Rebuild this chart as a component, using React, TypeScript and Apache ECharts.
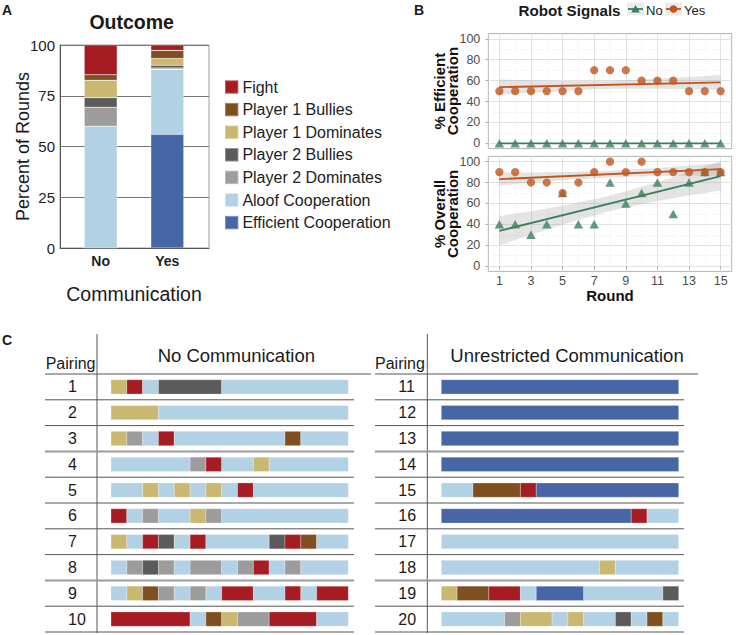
import React, { useEffect, useRef } from 'react';
import * as echarts from 'echarts';

const FONT = 'Liberation Sans, Arial, Helvetica, sans-serif';

// ---------- Panel A / C : outcomes ----------
const outcomeNames = ['Fight', 'Player 1 Bullies', 'Player 1 Dominates', 'Player 2 Bullies', 'Player 2 Dominates', 'Aloof Cooperation', 'Efficient Cooperation'];
const outcomeColors = ['#a51d22', '#7f4f1f', '#cbb870', '#5b5b5b', '#9c9c9c', '#b2d1e4', '#4666a6'];
// codes used in the pairing sequences: F fight, B P1 bullies, D P1 dominates, b P2 bullies, d P2 dominates, A aloof, E efficient
const outcomeCodes = ['F', 'B', 'D', 'b', 'd', 'A', 'E'];
const communication = ['No', 'Yes'];
const pctNo = [14.67, 2.67, 8.67, 4.67, 9.33, 60, 0];
const pctYes = [2.67, 4, 3.33, 1.33, 0.67, 32, 56];

// ---------- Panel B ----------
const rounds = [1, 2, 3, 4, 5, 6, 7, 8, 9, 10, 11, 12, 13, 14, 15];
const effNo = [0, 0, 0, 0, 0, 0, 0, 0, 0, 0, 0, 0, 0, 0, 0];
const effYes = [50, 50, 50, 50, 50, 50, 70, 70, 70, 60, 60, 60, 50, 50, 50];
const overallNo = [40, 40, 30, 40, 70, 40, 40, 80, 60, 70, 80, 50, 80, 90, 90];
const overallYes = [90, 90, 80, 80, 70, 80, 90, 100, 90, 100, 90, 90, 90, 90, 90];
const fitEffNo = [[1, 0], [15, 0]];
const fitEffYes = [[1, 53.75], [15, 58.25]];
const fitOverallNo = [[1, 33.75], [15, 86.25]];
const fitOverallYes = [[1, 83.25], [15, 92.75]];
const bandEffYes = [[1, 46.5, 61.0], [3, 48.5, 60.3], [5, 50.3, 59.7], [8, 52.2, 59.8], [11, 52.3, 61.7], [13, 51.7, 63.5], [15, 51.0, 65.5]];
const bandOverallNo = [[1, 19.8, 47.8], [3, 30.0, 52.5], [5, 39.8, 57.7], [8, 52.7, 67.4], [11, 62.3, 80.2], [13, 67.5, 90.0], [15, 72.3, 100.3]];
const bandOverallYes = [[1, 77.3, 89.3], [3, 79.8, 89.4], [5, 82.1, 89.8], [8, 84.9, 91.2], [11, 86.2, 93.8], [13, 86.6, 96.2], [15, 86.8, 98.8]];
const roundTicks = [1, 3, 5, 7, 9, 11, 13, 15];
const roundMinor = [2, 4, 6, 8, 10, 12, 14];
const pctTicks = [0, 20, 40, 60, 80, 100];
const pctMinor = [10, 30, 50, 70, 90];
const signalNames = ['No', 'Yes'];
const ORANGE = '#c0561d';
const GREEN = '#3c7f5e';

// ---------- Panel C ----------
const pairingsNo = ['1', '2', '3', '4', '5', '6', '7', '8', '9', '10'];
const pairingsYes = ['11', '12', '13', '14', '15', '16', '17', '18', '19', '20'];
const seqNo = [
  'DFAbbbbAAAAAAAA',
  'DDDAAAAAAAAAAAA',
  'DdAFAAAAAAABAAA',
  'AAAAAdFAADAAAAA',
  'AADADADAFAAAAAA',
  'FAdAADdAAAAAAAA',
  'DAFbAFAAAAbFBAA',
  'AdbdAddAdFAdAAA',
  'ADBdAdAFFAAFAFF',
  'FFFFFABDddFFFAA',
];
const seqYes = [
  'EEEEEEEEEEEEEEE',
  'EEEEEEEEEEEEEEE',
  'EEEEEEEEEEEEEEE',
  'EEEEEEEEEEEEEEE',
  'AABBBFEEEEEEEEE',
  'EEEEEEEEEEEEFAA',
  'AAAAAAAAAAAAAAA',
  'AAAAAAAAAADAAAA',
  'DBBFFAEEEAAAAAb',
  'AAAAdDDADAAbABA',
];

function runs(seqs: string[]) {
  const out: number[][] = [];
  seqs.forEach((s, row) => {
    let start = 0;
    for (let i = 1; i <= s.length; i++) {
      if (i === s.length || s[i] !== s[start]) {
        out.push([start, i, row, outcomeCodes.indexOf(s[start])]);
        start = i;
      }
    }
  });
  return out;
}

// layout
const A = { left: 60, top: 45, width: 149, height: 203 };
const AB = { left: 67.4, top: 45, width: 133.2, height: 203 };
const BT = { left: 488.3, top: 33.6, width: 243.4, height: 115 };
const BB = { left: 488.3, top: 156.4, width: 243.4, height: 115 };
const C_TOP = 374;
const ROW_H = 25.8;
const CL = { left: 111, top: C_TOP, width: 237.3, height: ROW_H * 10 };
const CR = { left: 441.3, top: C_TOP, width: 237.4, height: ROW_H * 10 };

export default function App() {
  const ref = useRef<HTMLDivElement>(null);
  useEffect(() => {
    if (!ref.current) return;
    const chart = echarts.init(ref.current, null, { renderer: 'svg' });

    const txt = (x: number, y: number, text: string, size: number, weight = 'normal', align = 'center', color = '#1a1a1a') => ({
      type: 'text', x, y, silent: true,
      style: { text, fontSize: size, fontWeight: weight, fontFamily: FONT, fill: color, textAlign: align, textVerticalAlign: 'middle' },
    });
    const hline = (x1: number, x2: number, y: number, stroke = '#555', lw = 1) => ({
      type: 'line', silent: true, shape: { x1, y1: y, x2, y2: y }, style: { stroke, lineWidth: lw },
    });
    const vline = (x: number, y1: number, y2: number) => ({
      type: 'line', silent: true, shape: { x1: x, y1, x2: x, y2 }, style: { stroke: '#555', lineWidth: 1 },
    });

    const graphics: any[] = [
      txt(7, 10, 'A', 14, 'bold'),
      txt(419, 10, 'B', 14, 'bold'),
      txt(7, 340, 'C', 14, 'bold'),
      txt(131.7, 21.7, 'Outcome', 19.5, 'bold'),
      // panel B legend
      txt(569.5, 10, 'Robot Signals', 15.2, 'bold'),
      { type: 'rect', silent: true, shape: { x: 627, y: 2.5, width: 17, height: 13 }, style: { fill: '#ebebeb' } },
      { type: 'rect', silent: true, shape: { x: 665, y: 2.5, width: 17, height: 13 }, style: { fill: '#ebebeb' } },
      hline(628, 643, 9, GREEN, 1.8),
      hline(666, 681, 9, ORANGE, 1.8),
      { type: 'polygon', silent: true, shape: { points: [[635.5, 5], [639.8, 12.4], [631.2, 12.4]] }, style: { fill: GREEN } },
      { type: 'circle', silent: true, shape: { cx: 673.5, cy: 9, r: 3.8 }, style: { fill: ORANGE } },
      txt(646, 10, signalNames[0], 13, 'normal', 'left', '#222'),
      txt(684, 10, signalNames[1], 13, 'normal', 'left', '#222'),
      // panel C headers
      txt(45.7, 363, 'Pairing', 16, 'normal', 'left'),
      txt(375, 363, 'Pairing', 16, 'normal', 'left'),
      txt(236.3, 355, 'No Communication', 18.5),
      txt(567, 355, 'Unrestricted Communication', 18.5),
      vline(97, 334, 633),
      vline(427.3, 334, 633),
      hline(45, 371, C_TOP),
      hline(375, 698, C_TOP),
    ];
    for (let k = 1; k <= 10; k++) {
      const y = C_TOP + k * ROW_H;
      const thick = k === 3 || k === 8;
      graphics.push(hline(45, 354, y, thick ? '#9a9a9a' : '#555', thick ? 2 : 1));
      graphics.push(hline(375, 684, y, thick ? '#9a9a9a' : '#555', thick ? 2 : 1));
    }

    const majorSplit = { show: true, lineStyle: { color: '#e2e2e2', width: 1 } };
    const minorSplit = { show: true, lineStyle: { color: '#f1f1f1', width: 0.6 } };
    const tickLabel = { fontSize: 12.5, color: '#4d4d4d', fontFamily: FONT };
    const bXMajor = (gridIndex: number, labels: boolean) => ({
      type: 'value', gridIndex, min: 0.3, max: 15.7,
      axisLine: { show: false },
      axisTick: { show: labels, customValues: roundTicks, length: 3, lineStyle: { color: '#b3b3b3' } },
      axisLabel: { show: labels, customValues: roundTicks, margin: 3, ...tickLabel },
      splitLine: majorSplit,
      ...(labels ? { name: 'Round', nameLocation: 'middle', nameGap: 17, nameMoveOverlap: false, nameTextStyle: { fontSize: 15, fontWeight: 'bold', color: '#111', fontFamily: FONT } } : {}),
    });
    const bXMinor = (gridIndex: number) => ({
      type: 'value', gridIndex, min: 0.3, max: 15.7,
      axisLine: { show: false }, axisTick: { show: false, customValues: roundMinor },
      axisLabel: { show: false, customValues: roundMinor }, splitLine: minorSplit,
    });
    const bYMajor = (gridIndex: number, name: string) => ({
      type: 'value', gridIndex, min: -5, max: 105,
      axisLine: { show: false },
      axisTick: { show: true, customValues: pctTicks, length: 3, lineStyle: { color: '#b3b3b3' } },
      axisLabel: { customValues: pctTicks, margin: 8, ...tickLabel },
      splitLine: majorSplit,
      name, nameLocation: 'middle', nameGap: 29, nameMoveOverlap: false,
      nameTextStyle: { fontSize: 15, fontWeight: 'bold', color: '#111', fontFamily: FONT, lineHeight: 13.5 },
    });
    const bYMinor = (gridIndex: number) => ({
      type: 'value', gridIndex, min: -5, max: 105,
      axisLine: { show: false }, axisTick: { show: false, customValues: pctMinor },
      axisLabel: { show: false, customValues: pctMinor }, splitLine: minorSplit,
    });

    const bandSeries = (band: number[][], xi: number, yi: number) => ({
      type: 'custom', xAxisIndex: xi, yAxisIndex: yi, z: 1, silent: true,
      data: band, encode: { x: 0, y: [1, 2] },
      renderItem: (params: any, api: any) => {
        if (params.dataIndex !== 0) return { type: 'group', children: [] };
        const upper = band.map((d) => api.coord([d[0], d[2]]));
        const lower = band.map((d) => api.coord([d[0], d[1]])).reverse();
        return { type: 'polygon', shape: { points: upper.concat(lower) }, style: { fill: 'rgba(150,150,150,0.26)' } };
      },
    });
    const fitSeries = (name: string, data: number[][], color: string, xi: number, yi: number) => ({
      type: 'line', name, data, xAxisIndex: xi, yAxisIndex: yi, showSymbol: false, silent: true, z: 3,
      lineStyle: { color, width: 1.8 }, itemStyle: { color },
    });
    const scatter = (name: string, vals: number[], xi: number, yi: number) => ({
      type: 'scatter', name, xAxisIndex: xi, yAxisIndex: yi, z: 4,
      symbol: name === 'No' ? 'triangle' : 'circle',
      symbolSize: name === 'No' ? [9.5, 8.5] : 8.2,
      itemStyle: { color: name === 'No' ? GREEN : ORANGE },
      data: rounds.map((r, i) => [r, vals[i]]),
    });

    const segSeries = (seqs: string[], xi: number, yi: number) => ({
      type: 'custom', xAxisIndex: xi, yAxisIndex: yi, silent: true,
      data: runs(seqs), encode: { x: [0, 1], y: 2 },
      renderItem: (params: any, api: any) => {
        const s = api.coord([api.value(0), api.value(2)]);
        const e = api.coord([api.value(1), api.value(2)]);
        const h = api.size([0, 1])[1] * 0.555;
        return {
          type: 'rect',
          shape: { x: s[0], y: s[1] - h / 2, width: e[0] - s[0], height: h },
          style: { fill: outcomeColors[api.value(3)], stroke: 'rgba(255,255,255,0.35)', lineWidth: 0.8 },
        };
      },
    });

    const cY = (gridIndex: number, data: string[]) => ({
      type: 'category', gridIndex, data, inverse: true,
      axisLine: { show: false }, axisTick: { show: false }, splitLine: { show: false },
      axisLabel: { align: 'left', margin: 43, fontSize: 16, color: '#1a1a1a', fontFamily: FONT },
    });
    const cX = (gridIndex: number) => ({ type: 'value', gridIndex, min: 0, max: 15, show: false });

    const stackOrder = [6, 5, 4, 3, 2, 1, 0];

    chart.setOption({
      animation: false,
      textStyle: { fontFamily: FONT },
      grid: [
        { ...A, show: true, borderColor: '#9a9a9a', borderWidth: 1, backgroundColor: 'transparent' },
        { ...AB },
        { ...BT, show: true, borderColor: '#b3b3b3', borderWidth: 1, backgroundColor: 'transparent' },
        { ...BB, show: true, borderColor: '#b3b3b3', borderWidth: 1, backgroundColor: 'transparent' },
        { ...CL },
        { ...CR },
      ],
      xAxis: [
        { type: 'value', gridIndex: 0, min: 0, max: 1, axisLabel: { show: false }, axisTick: { show: false }, splitLine: { show: false }, axisLine: { show: true, lineStyle: { color: '#555' } } },
        {
          type: 'category', gridIndex: 1, data: communication,
          axisLine: { show: false }, axisTick: { show: false },
          axisLabel: { fontSize: 14, fontWeight: 'bold', color: '#222', margin: 6, fontFamily: FONT },
          name: 'Communication', nameLocation: 'middle', nameGap: 36, nameMoveOverlap: false,
          nameTextStyle: { fontSize: 19.5, color: '#1a1a1a', fontFamily: FONT },
        },
        bXMajor(2, false),
        bXMinor(2),
        bXMajor(3, true),
        bXMinor(3),
        cX(4),
        cX(5),
      ],
      yAxis: [
        {
          type: 'value', gridIndex: 0, min: 0, max: 100, interval: 25,
          axisLine: { show: true, lineStyle: { color: '#555' } }, axisTick: { show: false },
          axisLabel: { fontSize: 15, color: '#222', margin: 5, fontFamily: FONT },
          splitLine: { show: true, lineStyle: { color: '#777', width: 1 } },
          name: 'Percent of Rounds', nameLocation: 'middle', nameGap: 28, nameMoveOverlap: false,
          nameTextStyle: { fontSize: 18, color: '#1a1a1a', fontFamily: FONT },
        },
        { type: 'value', gridIndex: 1, min: 0, max: 100, show: false },
        bYMajor(2, '% Efficient\nCooperation'),
        bYMinor(2),
        bYMajor(3, '% Overall\nCooperation'),
        bYMinor(3),
        cY(4, pairingsNo),
        cY(5, pairingsYes),
      ],
      legend: [
        {
          data: outcomeNames, orient: 'vertical', left: 224, top: 79, padding: 0,
          itemWidth: 13.4, itemHeight: 13.4, itemGap: 6.6, icon: 'rect', selectedMode: false,
          textStyle: { fontSize: 16, color: '#222', fontFamily: FONT, padding: [0, 0, 0, -1] },
        },
      ],
      graphic: graphics,
      series: [
        ...stackOrder.map((i) => ({
          type: 'bar', name: outcomeNames[i], stack: 'outcome', xAxisIndex: 1, yAxisIndex: 1,
          barWidth: 33, data: [pctNo[i], pctYes[i]],
          itemStyle: { color: outcomeColors[i], borderColor: 'rgba(255,255,255,0.3)', borderWidth: 0.6 },
        })),
        bandSeries(bandEffYes, 2, 2),
        fitSeries('No fit', fitEffNo, GREEN, 2, 2),
        fitSeries('Yes fit', fitEffYes, ORANGE, 2, 2),
        scatter('No', effNo, 2, 2),
        scatter('Yes', effYes, 2, 2),
        bandSeries(bandOverallNo, 4, 4),
        bandSeries(bandOverallYes, 4, 4),
        fitSeries('No fit', fitOverallNo, GREEN, 4, 4),
        fitSeries('Yes fit', fitOverallYes, ORANGE, 4, 4),
        scatter('No', overallNo, 4, 4),
        scatter('Yes', overallYes, 4, 4),
        segSeries(seqNo, 6, 6),
        segSeries(seqYes, 7, 7),
      ],
    });
    return () => chart.dispose();
  }, []);
  return <div ref={ref} style={{ position: 'absolute', left: 0, top: 0, width: 736, height: 635 }} />;
}
